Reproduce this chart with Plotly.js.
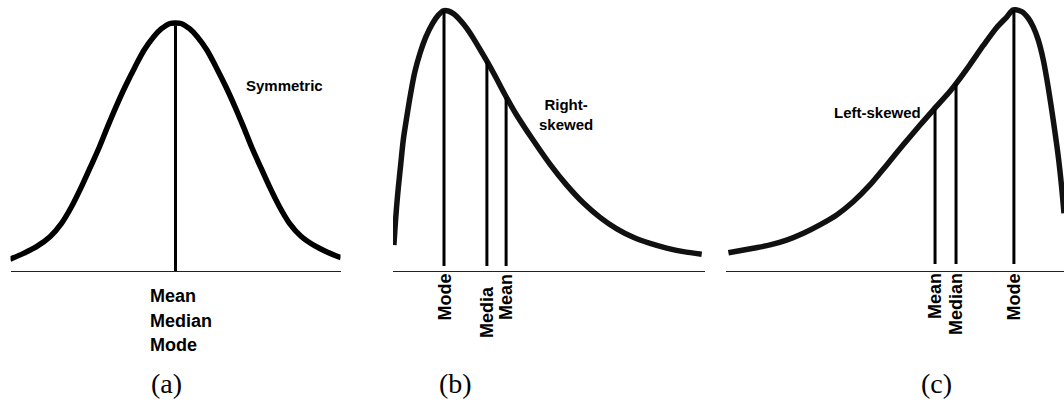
<!DOCTYPE html>
<html>
<head>
<meta charset="utf-8">
<script src="https://cdn.plot.ly/plotly-3.0.1.min.js"></script>
<style>html,body{margin:0;padding:0;background:#fff;}#chart{width:1064px;height:406px;}</style>
</head>
<body>
<div id="chart"></div>
<script>
// ---- Data (relative density, peak = 1) ----
const symX = [-3.31, -3.04, -2.78, -2.51, -2.28, -2.08, -1.88, -1.70, -1.52, -1.36, -1.19, -1.01, -0.81, -0.63, -0.44, -0.28, -0.11, 0,
              0.11, 0.28, 0.44, 0.63, 0.81, 1.01, 1.19, 1.36, 1.52, 1.70, 1.88, 2.08, 2.28, 2.51, 2.78, 3.04, 3.31];
const symY = [0.047, 0.071, 0.098, 0.138, 0.192, 0.259, 0.340, 0.420, 0.501, 0.581, 0.662, 0.742, 0.823, 0.890, 0.944, 0.977, 0.998, 1.0,
              0.998, 0.977, 0.944, 0.890, 0.823, 0.742, 0.662, 0.581, 0.501, 0.420, 0.340, 0.259, 0.192, 0.140, 0.102, 0.076, 0.054];

const rightX = [0.03, 0.07, 0.12, 0.18, 0.26, 0.34, 0.46, 0.59, 0.73, 0.9, 1.1, 1.32, 1.51, 1.68, 1.84, 2.03, 2.23, 2.46, 2.68, 2.9, 3.14, 3.4, 3.73, 4.12, 4.68, 5.23, 5.79, 6.34, 6.9, 7.46, 8.01, 8.57, 9.12, 9.68, 10.29];
const rightY = [0.082, 0.154, 0.232, 0.31, 0.40, 0.49, 0.583, 0.675, 0.759, 0.831, 0.896, 0.948, 0.98, 0.997, 0.996, 0.984, 0.961, 0.928, 0.889, 0.846, 0.798, 0.743, 0.67, 0.59, 0.49, 0.398, 0.316, 0.247, 0.19, 0.145, 0.112, 0.088, 0.070, 0.056, 0.046];

const leftX = [0.08, 0.91, 1.47, 2.02, 2.58, 3.13, 3.69, 4.24, 4.8, 5.36, 5.91, 6.47, 6.91, 7.47, 7.69, 8.13, 8.58, 9.02, 9.36, 9.58, 9.86, 10.08, 10.24, 10.41, 10.58, 10.74, 10.91, 11.08, 11.19, 11.27];
const leftY = [0.044, 0.062, 0.075, 0.094, 0.121, 0.154, 0.193, 0.245, 0.311, 0.39, 0.469, 0.547, 0.606, 0.68, 0.713, 0.784, 0.860, 0.930, 0.972, 1.0, 0.993, 0.967, 0.934, 0.882, 0.803, 0.698, 0.567, 0.422, 0.304, 0.2];

const symStatNames = ['Mean', 'Median', 'Mode'];
const symStatX = [0];
const symStatH = [0.99];

const rightStatNames = ['Mode', 'Media', 'Mean'];
const rightStatX = [1.7, 3.13, 3.77];
const rightStatH = [1.0, 0.80, 0.66];

const leftStatNames = ['Mean', 'Median', 'Mode'];
const leftStatX = [6.97, 7.67, 9.6];
const leftStatH = [0.61, 0.71, 1.0];

const shapeNames = ['Symmetric', 'Right-<br>skewed', 'Left-skewed'];
const panelLabels = ['(a)', '(b)', '(c)'];

// ---- Build traces ----
function stems(xs, hs) {
  const x = [], y = [];
  xs.forEach((v, i) => { x.push(v, v, null); y.push(0, hs[i], null); });
  return {x, y};
}
const sans = '"Liberation Sans", Arial, sans-serif';
const serif = '"Liberation Serif", "Times New Roman", serif';

const traces = [];
[[symX, symY, 'x', 'y', '#000'], [rightX, rightY, 'x2', 'y2', '#111'], [leftX, leftY, 'x3', 'y3', '#111']].forEach(c => {
  traces.push({x: c[0], y: c[1], xaxis: c[2], yaxis: c[3], mode: 'lines',
    line: {color: c[4], width: 5.5, shape: 'spline', smoothing: 0.8}, hoverinfo: 'skip'});
});
[[symStatX, symStatH, 'x', 'y'], [rightStatX, rightStatH, 'x2', 'y2'], [leftStatX, leftStatH, 'x3', 'y3']].forEach(c => {
  const s = stems(c[0], c[1]);
  traces.push({x: s.x, y: s.y, xaxis: c[2], yaxis: c[3], mode: 'lines',
    line: {color: '#000', width: 3}, hoverinfo: 'skip'});
});

// ---- Layout ----
const W = 1064, H = 406;
const px = v => v / W, py = v => 1 - v / H;
function xa(range, dom) {
  return {range: range, domain: dom, showgrid: false, zeroline: false, showticklabels: false,
    ticks: '', showline: true, linecolor: '#222', linewidth: 1, fixedrange: true};
}
function ya(range, dom) {
  return {range: range, domain: dom, visible: false, fixedrange: true};
}

const annotations = [];
// panel (a) stat labels
const symLabelY = [296, 320.5, 345];
symStatNames.forEach((n, i) => annotations.push({xref: 'paper', yref: 'paper', x: px(148), y: py(symLabelY[i]),
  xanchor: 'left', yanchor: 'middle', text: '<b>' + n + '</b>', showarrow: false,
  font: {family: sans, size: 18, color: '#000'}}));
// rotated labels (b)
const rightTop = [272, 284, 272];
rightStatNames.forEach((n, i) => annotations.push({xref: 'x2', yref: 'paper', x: rightStatX[i], y: py(rightTop[i]),
  xanchor: 'center', yanchor: 'top', textangle: -90, text: '<b>' + n + '</b>', showarrow: false,
  font: {family: sans, size: 18, color: '#000'}}));
// rotated labels (c)
leftStatNames.forEach((n, i) => annotations.push({xref: 'x3', yref: 'paper', x: leftStatX[i], y: py(271),
  xanchor: 'center', yanchor: 'top', textangle: -90, text: '<b>' + n + '</b>', showarrow: false,
  font: {family: sans, size: 18, color: '#000'}}));
// shape names
annotations.push({xref: 'paper', yref: 'paper', x: px(244), y: py(86), xanchor: 'left', yanchor: 'middle',
  text: '<b>' + shapeNames[0] + '</b>', showarrow: false, font: {family: sans, size: 15, color: '#000'}});
annotations.push({xref: 'paper', yref: 'paper', x: px(566), y: py(114), xanchor: 'center', yanchor: 'middle',
  text: '<b>' + shapeNames[1] + '</b>', align: 'center', showarrow: false, font: {family: sans, size: 15, color: '#000'}});
annotations.push({xref: 'paper', yref: 'paper', x: px(923), y: py(113), xanchor: 'right', yanchor: 'middle',
  text: '<b>' + shapeNames[2] + '</b>', showarrow: false, font: {family: sans, size: 15, color: '#000'}});
// panel labels
const panelLabelX = [166, 455, 936];
panelLabels.forEach((t, i) => annotations.push({xref: 'paper', yref: 'paper', x: px(panelLabelX[i]), y: py(383),
  xanchor: 'center', yanchor: 'middle', text: t, showarrow: false, font: {family: serif, size: 28, color: '#000'}}));

const layout = {
  width: W, height: H,
  margin: {l: 0, r: 0, t: 0, b: 0, pad: 0},
  paper_bgcolor: '#fff', plot_bgcolor: 'rgba(0,0,0,0)',
  showlegend: false,
  xaxis: xa([-3.3, 3.3], [px(10.5), px(340.5)]),
  yaxis: ya([0, 1.06], [py(271), py(271 - 1.06 * 248)]),
  xaxis2: xa([0, 10.4], [px(393), px(705)]),
  yaxis2: ya([0, 1.039], [py(266), 1]),
  xaxis3: xa([0, 11.27], [px(726), 1]),
  yaxis3: ya([0, 1.039], [py(264), 1]),
  annotations: annotations
};

Plotly.newPlot('chart', traces, layout, {staticPlot: true, displayModeBar: false});
</script>
</body>
</html>
